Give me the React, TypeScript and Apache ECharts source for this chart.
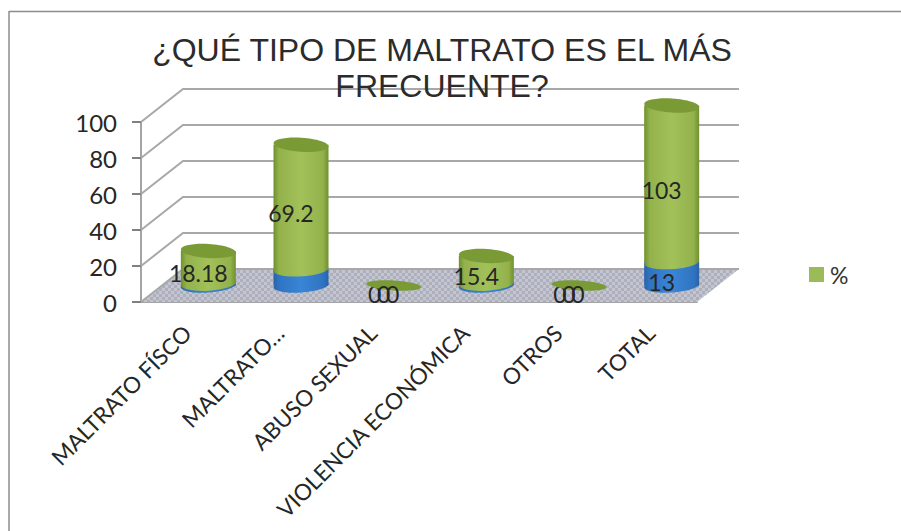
import React, { useEffect, useRef } from "react";
import * as echarts from "echarts";

const categories = ["MALTRATO FÍSCO", "MALTRATO…", "ABUSO SEXUAL", "VIOLENCIA ECONÓMICA", "OTROS", "TOTAL"];
const frequency = [1, 9, 0, 1, 0, 13];
const percent = [18.18, 69.2, 0, 15.4, 0, 103];
const frequencyLabels = ["", "", "0", "", "0", "13"];
const percentLabels = ["18.18", "69.2", "0", "15.4", "0", "103"];
const thirdZeroLabels = ["", "", "0", "", "0", ""];
const yTicks = [0, 20, 40, 60, 80, 100];
const titleLines = "¿QUÉ TIPO DE MALTRATO ES EL MÁS\nFRECUENTE?";

const DEPTH_X = 42;
const DEPTH_Y = 33;
const RX = 27.5;
const RY = 7;
const TILT = 0.06;
const MAX = 100;
const ZERO_STEP = 9;

function hatch(): HTMLCanvasElement {
  const c = document.createElement("canvas");
  c.width = 6;
  c.height = 6;
  const g = c.getContext("2d")!;
  g.fillStyle = "#adb0bc";
  g.fillRect(0, 0, 6, 6);
  g.fillStyle = "#c3c5d1";
  g.fillRect(0, 0, 3, 3);
  g.fillRect(3, 3, 3, 3);
  return c;
}

function cyl(stops: string[]) {
  return new echarts.graphic.LinearGradient(0, 0, 1, 0, [
    { offset: 0, color: stops[0] },
    { offset: 0.1, color: stops[1] },
    { offset: 0.5, color: stops[2] },
    { offset: 0.9, color: stops[1] },
    { offset: 1, color: stops[0] },
  ]);
}

const GREEN = ["#70902f", "#93b24c", "#a2c159"];
const BLUE = ["#2a62a8", "#2f74c2", "#3a85d6"];
const LABEL_COLOR = "#262626";

function center(api: any, cat: number, value: number) {
  const p = api.coord([cat, Math.min(value, MAX)]);
  return [p[0] + DEPTH_X / 2, p[1] - DEPTH_Y / 2];
}

function label(text: string, x: number, y: number) {
  return {
    type: "text",
    z2: 50,
    style: {
      text,
      x,
      y,
      fill: LABEL_COLOR,
      font: '23px Lato, "Noto Sans", sans-serif',
      align: "center",
      verticalAlign: "middle",
    },
  };
}

function segment(api: any, cat: number, from: number, to: number, stops: string[], cap: string | null) {
  const b = center(api, cat, from);
  const t = center(api, cat, to);
  const children: any[] = [
    {
      type: "ellipse",
      x: b[0],
      y: b[1],
      rotation: TILT,
      shape: { cx: 0, cy: 0, rx: RX, ry: RY },
      style: { fill: cyl(stops) },
    },
    {
      type: "rect",
      shape: { x: b[0] - RX, y: t[1], width: RX * 2, height: b[1] - t[1] },
      style: { fill: cyl(stops) },
    },
  ];
  if (cap) {
    children.push({
      type: "ellipse",
      x: t[0],
      y: t[1],
      rotation: -TILT,
      shape: { cx: 0, cy: 0, rx: RX, ry: RY },
      style: { fill: cap },
    });
  }
  return children;
}

export default function App() {
  const ref = useRef<HTMLDivElement>(null);
  useEffect(() => {
    const chart = echarts.init(ref.current!, undefined, { renderer: "svg" });
    const floorPattern = hatch();
    chart.setOption({
      animation: false,
      title: {
        text: titleLines,
        left: 437,
        top: 27,
        textAlign: "center",
        textStyle: {
          fontFamily: '"Liberation Sans", Arial, sans-serif',
          fontSize: 32,
          fontWeight: "normal",
          color: "#2b2b2b",
          lineHeight: 36,
        },
      },
      legend: {
        data: ["%"],
        left: 804,
        top: 258,
        icon: "rect",
        itemWidth: 15,
        itemHeight: 15,
        itemGap: 6,
        textStyle: { fontSize: 23, color: "#333", fontFamily: 'Lato, "Noto Sans", sans-serif', padding: [0, 0, 0, 1] },
      },
      grid: { left: 141, top: 122, width: 556, height: 180, containLabel: false },
      xAxis: {
        type: "category",
        data: categories,
        axisTick: { show: false },
        axisLine: { show: true, lineStyle: { color: "#a4a4a4", width: 2 } },
        axisLabel: {
          interval: 0,
          rotate: 45,
          margin: 27,
          fontSize: 22.5,
          color: "#262626",
          fontFamily: 'Lato, "Noto Sans", sans-serif',
        },
      },
      yAxis: {
        type: "value",
        min: 0,
        max: MAX,
        interval: 20,
        splitLine: { show: false },
        axisLine: { show: true, lineStyle: { color: "#a4a4a4", width: 2 } },
        axisTick: { show: true, length: 9, lineStyle: { color: "#808080", width: 2 } },
        axisLabel: {
          margin: 24,
          fontSize: 24,
          color: "#262626",
          fontFamily: 'Lato, "Noto Sans", sans-serif',
        },
      },
      graphic: [
        { type: "line", shape: { x1: 9, y1: 11.5, x2: 901, y2: 11.5 }, style: { stroke: "#8c8c8c", lineWidth: 1.5 } },
        { type: "line", shape: { x1: 9, y1: 11, x2: 9, y2: 531 }, style: { stroke: "#8c8c8c", lineWidth: 1.5 } },
      ],
      series: [
        {
          type: "custom",
          name: "wall",
          z: 1,
          data: yTicks.map((v) => [0, v]),
          encode: { x: 0, y: 1 },
          renderItem: (params: any, api: any) => {
            const v = api.value(1);
            const y = api.coord([0, v])[1];
            const left = params.coordSys.x;
            const right = left + params.coordSys.width;
            const children: any[] = [];
            if (v === 0) {
              children.push({
                type: "polygon",
                shape: {
                  points: [
                    [left, y],
                    [left + DEPTH_X, y - DEPTH_Y],
                    [right + DEPTH_X, y - DEPTH_Y],
                    [right, y],
                  ],
                },
                style: { fill: { image: floorPattern, repeat: "repeat" } },
              });
            }
            children.push({
              type: "polyline",
              shape: {
                points: [
                  [left, y],
                  [left + DEPTH_X, y - DEPTH_Y],
                  [right + DEPTH_X, y - DEPTH_Y],
                ],
              },
              style: { stroke: "#a8a8a8", lineWidth: 2, fill: "none" },
            });
            return { type: "group", children };
          },
        },
        {
          type: "custom",
          name: "frecuencia",
          z: 2,
          data: frequency.map((v, i) => [i, v]),
          encode: { x: 0, y: 1 },
          itemStyle: { color: "#2f74c2" },
          renderItem: (_: any, api: any) => {
            const i = api.value(0);
            const v = api.value(1);
            const b = center(api, i, 0);
            const t = center(api, i, v);
            const children: any[] = v > 0 ? segment(api, i, 0, v, BLUE, null) : [];
            const text = frequencyLabels[i];
            if (text) {
              children.push(
                v > 0
                  ? label(text, b[0] - 10, (b[1] + t[1]) / 2 + 8)
                  : label(text, b[0] - 10 - ZERO_STEP, b[1] + 8)
              );
            }
            return { type: "group", children };
          },
        },
        {
          type: "custom",
          name: "%",
          z: 3,
          data: percent.map((v, i) => [i, v, frequency[i]]),
          encode: { x: 0, y: 1 },
          itemStyle: { color: "#9bbb59" },
          renderItem: (_: any, api: any) => {
            const i = api.value(0);
            const v = api.value(1);
            const base = api.value(2);
            const b = center(api, i, base);
            const t = center(api, i, base + v);
            const text = percentLabels[i];
            if (v === 0) {
              return {
                type: "group",
                children: [
                  {
                    type: "ellipse",
                    x: b[0],
                    y: b[1],
                    rotation: -TILT,
                    shape: { cx: 0, cy: 0, rx: RX, ry: 5 },
                    style: { fill: "#7a9a36" },
                  },
                  label(text, b[0] - 10, b[1] + 8),
                ],
              };
            }
            return {
              type: "group",
              children: [
                ...segment(api, i, base, base + v, GREEN, "#7a9a36"),
                label(text, b[0] - 10, (b[1] + t[1]) / 2 + 6),
              ],
            };
          },
        },
        {
          type: "custom",
          name: "ceros",
          z: 4,
          data: thirdZeroLabels.map((t, i) => [i, 0, t]),
          encode: { x: 0, y: 1 },
          renderItem: (_: any, api: any) => {
            const i = api.value(0);
            const text = thirdZeroLabels[i];
            if (!text) return { type: "group", children: [] };
            const b = center(api, i, 0);
            return { type: "group", children: [label(text, b[0] - 10 + ZERO_STEP, b[1] + 8)] };
          },
        },
      ],
    });
    return () => chart.dispose();
  }, []);
  return (
    <div
      ref={ref}
      style={{ position: "fixed", left: 0, top: 0, width: 901, height: 531, background: "#fff" }}
    />
  );
}
